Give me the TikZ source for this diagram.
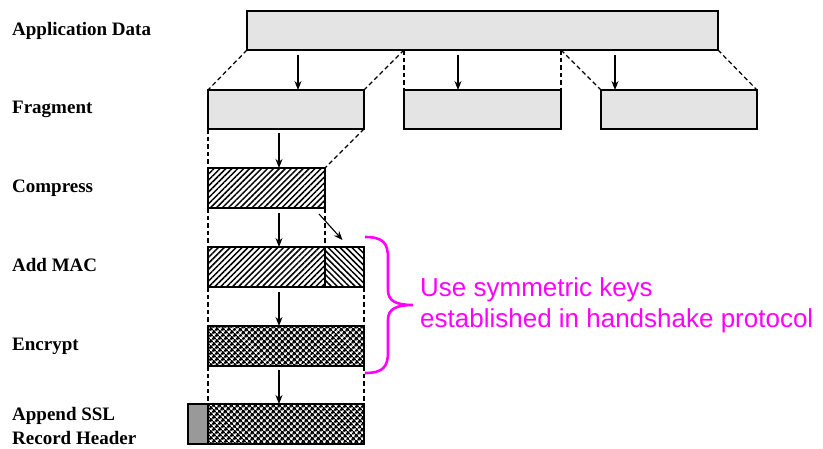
\documentclass[tikz,border=0pt]{standalone}
\usepackage{fontspec}
\setmainfont{Liberation Serif}
\newfontfamily\notefont{Liberation Sans}
\usetikzlibrary{positioning,arrows.meta,patterns.meta}

\definecolor{boxgray}{HTML}{E4E4E4}
\definecolor{hdrgray}{HTML}{999999}
\definecolor{notepink}{HTML}{FF00FF}

\tikzstyle{stage} = [font=\bfseries\fontsize{19}{24}\selectfont, anchor=base west, align=left, inner sep=0pt]
\tikzstyle{block} = [rectangle, draw=black, line width=1.7pt, inner sep=0pt, outer sep=0pt, minimum height=39pt, anchor=north west]
\tikzstyle{pale} = [block, fill=boxgray]
\tikzstyle{packed} = [block, minimum height=40pt, pattern={Lines[angle=45,distance=4.2pt,line width=1.5pt]}]
\tikzstyle{macpart} = [block, minimum height=40pt, pattern={Lines[angle=-45,distance=4.2pt,line width=1.5pt]}]
\tikzstyle{cipher} = [block, minimum height=40pt, pattern={Hatch[angle=45,distance=4pt,line width=1.8pt]}]
\tikzstyle{cut} = [dash pattern=on 4.5pt off 3pt, line width=1.2pt]
\tikzstyle{flow} = [-{Stealth[length=9pt,width=7pt]}, line width=1.1pt]

\begin{document}
\begin{tikzpicture}[x=1pt, y=-1pt]
\useasboundingbox (0,0) rectangle (823,448);

% stage labels
\node (lblapp) [stage] at (12,35) {Application Data};
\node (lblfrag) [stage] at (12,113) {Fragment};
\node (lblcomp) [stage] at (12,192) {Compress};
\node (lblmac) [stage] at (12,271) {Add MAC};
\node (lblenc) [stage] at (12,350) {Encrypt};
\node (lblhdr) [stage] at (12,444) {Append SSL\\Record Header};

% boxes
\node (appdata) [pale, minimum width=471pt] at (247,11) {};
\node (frag1) [pale, minimum width=156pt] at (208,90) {};
\node (frag2) [pale, minimum width=157pt] at (404,90) {};
\node (frag3) [pale, minimum width=156pt] at (601,90) {};
\node (comp) [packed, minimum width=117pt] at (208,168) {};
\node (macdata) [packed, minimum width=117pt] at (208,247) {};
\node (mac) [macpart, minimum width=39pt, right=0pt of macdata] {};
\node (enc) [cipher, minimum width=156pt] at (208,326) {};
\node (rec) [cipher, minimum width=156pt] at (208,404) {};
\node (hdr) [block, fill=hdrgray, minimum width=20pt, minimum height=40pt, left=0pt of rec] {};

% dashed guides
\coordinate (cutl) at (frag2.north west |- appdata.south);
\coordinate (cutr) at (frag2.north east |- appdata.south);
\draw[cut] (appdata.south west) -- (frag1.north west);
\draw[cut] (cutl) -- (frag1.north east);
\draw[cut] (cutl) -- (frag2.north west);
\draw[cut] (cutr) -- (frag2.north east);
\draw[cut] (cutr) -- (frag3.north west);
\draw[cut] (appdata.south east) -- (frag3.north east);
\draw[cut] (frag1.south west) -- (comp.north west);
\draw[cut] (frag1.south east) -- (comp.north east);
\draw[cut] (comp.south west) -- (macdata.north west);
\draw[cut] (comp.south east) -- (macdata.north east);
\draw[cut] (macdata.south west) -- (enc.north west);
\draw[cut] (mac.south east) -- (enc.north east);
\draw[cut] (enc.south west) -- (rec.north west);
\draw[cut] (enc.south east) -- (rec.north east);

% arrows
\coordinate (src1) at (298,55);
\coordinate (src2) at (458,55);
\coordinate (src3) at (615,55);
\coordinate (src4) at (279,133);
\coordinate (src5) at (279,213);
\coordinate (src6) at (279,292);
\coordinate (src7) at (279,370);
\coordinate (src8) at (319,214);
\draw[flow] (src1) -- (src1 |- frag1.north);
\draw[flow] (src2) -- (src2 |- frag2.north);
\draw[flow] (src3) -- (src3 |- frag3.north);
\draw[flow] (src4) -- (src4 |- comp.north);
\draw[flow] (src5) -- (src5 |- macdata.north);
\draw[flow] (src6) -- (src6 |- enc.north);
\draw[flow] (src7) -- (src7 |- rec.north);
\draw[flow] (src8) -- ([xshift=-2pt,yshift=7pt]mac.north);

% brace and note
\draw[notepink, line width=2.6pt] (365,237) .. controls (383,237) and (388,243) .. (388,258)
  -- (388,290) .. controls (388,301) and (396,305) .. (413,305)
  .. controls (396,305) and (388,309) .. (388,320)
  -- (388,352) .. controls (388,367) and (383,373) .. (365,373);
\coordinate (bracetip) at (413,305);
\node (note) [right=7pt of bracetip, inner sep=0pt, align=left, text=notepink,
  font=\notefont\fontsize{26}{31}\selectfont] {Use symmetric keys\\established in handshake protocol};

\end{tikzpicture}
\end{document}
